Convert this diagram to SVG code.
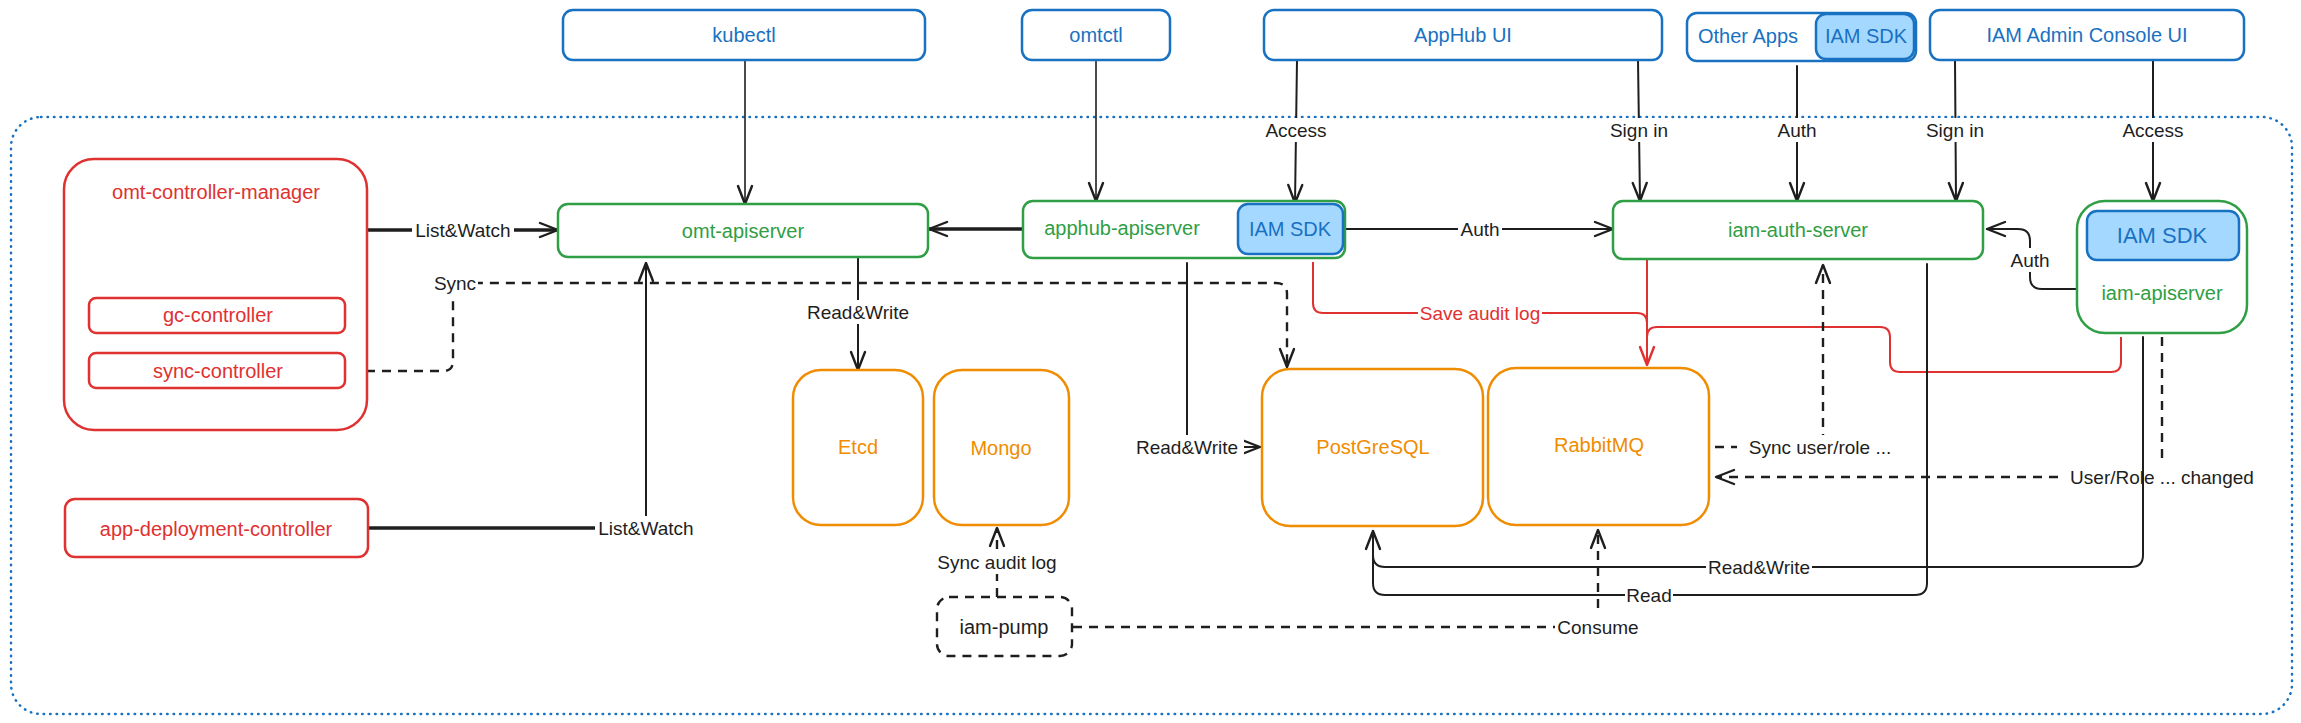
<svg xmlns="http://www.w3.org/2000/svg" width="2301" height="723" viewBox="0 0 2301 723">
<defs>
<style>
text{font-family:"Liberation Sans",Arial,sans-serif;text-anchor:middle;dominant-baseline:central}
.n{font-size:20px}
.l{font-size:19px;fill:#1e1e1e}
.blue{fill:#fff;stroke:#1971c2;stroke-width:2.5}
.sdk{fill:#a5d8ff;stroke:#1971c2;stroke-width:2.5}
.green{fill:#fff;stroke:#2f9e44;stroke-width:2.5}
.red{fill:#fff;stroke:#e03131;stroke-width:2.5}
.orange{fill:#fff;stroke:#f08c00;stroke-width:2.5}
.tb{fill:#1971c2}.tg{fill:#2f9e44}.tr{fill:#e03131}.to{fill:#f08c00}
.c{fill:none;stroke:#1e1e1e;stroke-width:2;stroke-linecap:round;stroke-linejoin:round}
.thin{stroke-width:1.6}
.thick{stroke-width:3.5}
.dash{stroke-dasharray:9 7;stroke-width:2.4;stroke-linecap:butt}
.cr{fill:none;stroke:#e03131;stroke-width:2;stroke-linejoin:round}
.bg{fill:#fff}
</style>
<marker id="ah" viewBox="0 0 22 18" refX="20" refY="9" markerWidth="22" markerHeight="18" markerUnits="userSpaceOnUse" orient="auto"><path d="M2,2 L20,9 L2,16" fill="none" stroke="#1e1e1e" stroke-width="2.4" stroke-linecap="round" stroke-linejoin="round"/></marker>
<marker id="ahr" viewBox="0 0 22 18" refX="20" refY="9" markerWidth="22" markerHeight="18" markerUnits="userSpaceOnUse" orient="auto"><path d="M2,2 L20,9 L2,16" fill="none" stroke="#e03131" stroke-width="2.4" stroke-linecap="round" stroke-linejoin="round"/></marker>
</defs>
<rect width="2301" height="723" fill="#fff"/>
<g id="cluster">
<rect x="11" y="117" width="2281" height="597" rx="30" fill="none" stroke="#1971c2" stroke-width="2.5" stroke-dasharray="0.5 6" stroke-linecap="round"/>
</g>
<g id="connectors">
<path class="c thin" d="M745,60 V204" marker-end="url(#ah)"/>
<path class="c thin" d="M1096,60 V201" marker-end="url(#ah)"/>
<path class="c" d="M1297,60 L1295,203" marker-end="url(#ah)"/>
<path class="c" d="M1638,60 L1640,201" marker-end="url(#ah)"/>
<path class="c" d="M1797,66 V201" marker-end="url(#ah)"/>
<path class="c" d="M1955,60 L1956,201" marker-end="url(#ah)"/>
<path class="c" d="M2153,60 V201" marker-end="url(#ah)"/>
<path class="c thick" d="M368,230 H558" marker-end="url(#ah)"/>
<path class="c thick" d="M1023,229 H929" marker-end="url(#ah)"/>
<path class="c" d="M1345,229 H1613" marker-end="url(#ah)"/>
<path class="c" d="M2077,289 H2042 Q2030,289 2030,277 V241 Q2030,229 2018,229 H1987" marker-end="url(#ah)"/>
<path class="c" d="M858,257 V370" marker-end="url(#ah)"/>
<path class="c thick" d="M368,528 H646"/>
<path class="c" d="M646,528 V263" marker-end="url(#ah)"/>
<path class="c dash" d="M350,371 H443 Q453,371 453,361 V283 H1276 Q1287,283 1287,294 V367" marker-end="url(#ah)"/>
<path class="c" d="M1187,263 V447 H1260" marker-end="url(#ah)"/>
<path class="cr" d="M1313,262 V303 Q1313,313 1323,313 H1637 Q1647,313 1647,323"/>
<path class="cr" d="M1647,259 V365" marker-end="url(#ahr)"/>
<path class="cr" d="M2121,337 V362 Q2121,372 2111,372 H1900 Q1890,372 1890,362 V337 Q1890,327 1880,327 H1657 Q1647,327 1647,337"/>
<path class="c dash" d="M1715,447 H1823 V265" marker-end="url(#ah)"/>
<path class="c dash" d="M2162,337 V463"/>
<path class="c dash" d="M2058,477 H1716" marker-end="url(#ah)"/>
<path class="c" d="M1927,264 V583 Q1927,595 1915,595 H1385 Q1373,595 1373,583 V531" marker-end="url(#ah)"/>
<path class="c" d="M2143,337 V555 Q2143,567 2131,567 H1385 Q1373,567 1373,555 V531"/>
<path class="c dash" d="M997,597 V528" marker-end="url(#ah)"/>
<path class="c dash" d="M1073,627 H1598 V530" marker-end="url(#ah)"/>
</g>
<g id="labels">
<rect class="bg" x="1266" y="118" width="60" height="24"/><text class="l" x="1296" y="130">Access</text>
<rect class="bg" x="1608" y="118" width="62" height="24"/><text class="l" x="1639" y="130">Sign in</text>
<rect class="bg" x="1775" y="118" width="44" height="24"/><text class="l" x="1797" y="130">Auth</text>
<rect class="bg" x="1924" y="118" width="62" height="24"/><text class="l" x="1955" y="130">Sign in</text>
<rect class="bg" x="2123" y="118" width="60" height="24"/><text class="l" x="2153" y="130">Access</text>
<rect class="bg" x="412" y="218" width="102" height="24"/><text class="l" x="463" y="230">List&amp;Watch</text>
<rect class="bg" x="1458" y="217" width="44" height="24"/><text class="l" x="1480" y="229">Auth</text>
<rect class="bg" x="2008" y="248" width="44" height="24"/><text class="l" x="2030" y="260">Auth</text>
<rect class="bg" x="432" y="271" width="46" height="24"/><text class="l" x="455" y="283">Sync</text>
<rect class="bg" x="807" y="300" width="102" height="24"/><text class="l" x="858" y="312">Read&amp;Write</text>
<rect class="bg" x="1130" y="435" width="114" height="24"/><text class="l" x="1187" y="447">Read&amp;Write</text>
<rect class="bg" x="1418" y="301" width="124" height="24"/><text class="l tr" x="1480" y="313">Save audit log</text>
<rect class="bg" x="1737" y="435" width="166" height="24"/><text class="l" x="1820" y="447">Sync user/role ...</text>
<text class="l" x="2162" y="477">User/Role ... changed</text>
<rect class="bg" x="1706" y="555" width="106" height="24"/><text class="l" x="1759" y="567">Read&amp;Write</text>
<rect class="bg" x="1625" y="583" width="48" height="24"/><text class="l" x="1649" y="595">Read</text>
<rect class="bg" x="595" y="516" width="102" height="24"/><text class="l" x="646" y="528">List&amp;Watch</text>
<rect class="bg" x="928" y="550" width="138" height="24"/><text class="l" x="997" y="562">Sync audit log</text>
<rect class="bg" x="1555" y="615" width="86" height="24"/><text class="l" x="1598" y="627">Consume</text>
</g>
<g id="kubectl"><rect class="blue" x="563" y="10" width="362" height="50" rx="10"/><text class="n tb" x="744" y="35">kubectl</text></g>
<g id="omtctl"><rect class="blue" x="1022" y="10" width="148" height="50" rx="10"/><text class="n tb" x="1096" y="35">omtctl</text></g>
<g id="apphub-ui"><rect class="blue" x="1264" y="10" width="398" height="50" rx="10"/><text class="n tb" x="1463" y="35">AppHub UI</text></g>
<g id="other-apps"><rect class="blue" x="1687" y="13" width="229" height="48" rx="10"/><rect class="sdk" x="1816" y="14" width="98" height="45" rx="10"/><text class="n tb" x="1748" y="36">Other Apps</text><text class="n tb" x="1866" y="36">IAM SDK</text></g>
<g id="iam-admin-ui"><rect class="blue" x="1930" y="10" width="314" height="50" rx="10"/><text class="n tb" x="2087" y="35">IAM Admin Console UI</text></g>
<g id="omt-controller-manager"><rect class="red" x="64" y="159" width="303" height="271" rx="30"/><text class="n tr" x="216" y="192">omt-controller-manager</text></g>
<g id="gc-controller"><rect class="red" x="89" y="298" width="256" height="35" rx="7"/><text class="n tr" x="218" y="315">gc-controller</text></g>
<g id="sync-controller"><rect class="red" x="89" y="353" width="256" height="35" rx="7"/><text class="n tr" x="218" y="371">sync-controller</text></g>
<g id="app-deployment-controller"><rect class="red" x="65" y="499" width="303" height="58" rx="10"/><text class="n tr" x="216" y="529">app-deployment-controller</text></g>
<g id="omt-apiserver"><rect class="green" x="558" y="204" width="370" height="53" rx="10"/><text class="n tg" x="743" y="231">omt-apiserver</text></g>
<g id="apphub-apiserver"><rect class="green" x="1023" y="201" width="322" height="57" rx="10"/><rect class="sdk" x="1238" y="204" width="105" height="50" rx="10"/><text class="n tg" x="1122" y="228">apphub-apiserver</text><text class="n tb" x="1290" y="229">IAM SDK</text></g>
<g id="iam-auth-server"><rect class="green" x="1613" y="201" width="370" height="58" rx="10"/><text class="n tg" x="1798" y="230">iam-auth-server</text></g>
<g id="iam-apiserver"><rect class="green" x="2077" y="201" width="170" height="132" rx="28"/><rect class="sdk" x="2087" y="211" width="152" height="49" rx="10"/><text class="n tb" x="2162" y="235" style="font-size:22px">IAM SDK</text><text class="n tg" x="2162" y="293">iam-apiserver</text></g>
<g id="etcd"><rect class="orange" x="793" y="370" width="130" height="155" rx="28"/><text class="n to" x="858" y="447">Etcd</text></g>
<g id="mongo"><rect class="orange" x="934" y="370" width="135" height="155" rx="28"/><text class="n to" x="1001" y="448">Mongo</text></g>
<g id="postgresql"><rect class="orange" x="1262" y="369" width="221" height="157" rx="28"/><text class="n to" x="1373" y="447">PostGreSQL</text></g>
<g id="rabbitmq"><rect class="orange" x="1488" y="368" width="221" height="157" rx="28"/><text class="n to" x="1599" y="445">RabbitMQ</text></g>
<g id="iam-pump"><rect x="937" y="597" width="135" height="59" rx="12" fill="#fff" stroke="#1e1e1e" stroke-width="2.4" stroke-dasharray="9 7"/><text class="n" x="1004" y="627" fill="#1e1e1e">iam-pump</text></g>
</svg>
